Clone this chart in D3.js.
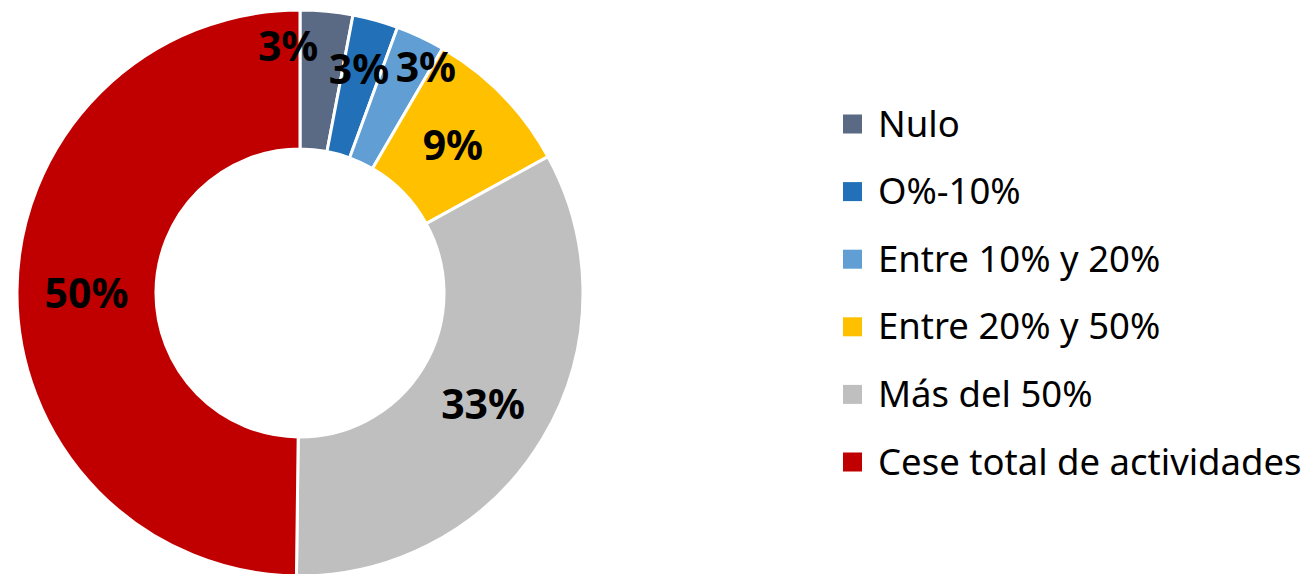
<!DOCTYPE html>
<html>
<head>
<meta charset="utf-8">
<script src="https://cdn.jsdelivr.net/npm/d3@7"></script>
<style>
  html, body { margin: 0; padding: 0; background: #fff; }
  svg { display: block; }
</style>
</head>
<body>
<div id="chart"></div>
<script>
// categories and shares (percent)
const categories = ['Nulo', 'O%-10%', 'Entre 10% y 20%', 'Entre 20% y 50%', 'Más del 50%', 'Cese total de actividades'];
const shares = [3.0, 2.6, 2.8, 8.6, 33.2, 49.8];
const labels = ['3%', '3%', '3%', '9%', '33%', '50%'];
const colors = ['#5A6A84', '#2270B8', '#609ED4', '#FFC000', '#BFBFBF', '#C00000'];

// small slices have their labels pushed off the centroid (like Excel does)
const labelNudge = [[-32, -35], [2, -19], [35, -34], [0, 0], [0, 0], [0, 0]];

const width = 1312, height = 574;
const dim = { cx: 300, cy: 293, inner: 144, outer: 283 };

const svg = d3.select('#chart')
  .append('svg')
  .attr('width', width)
  .attr('height', height);

const data = categories.map((c, i) => ({ name: c, value: shares[i], label: labels[i], color: colors[i] }));

const pie = d3.pie().sort(null).value(d => d.value);
const arc = d3.arc().innerRadius(dim.inner).outerRadius(dim.outer);
const pied = pie(data);

const canvas = svg.append('g')
  .attr('transform', `translate(${dim.cx},${dim.cy})`);

canvas.selectAll('.wedge')
  .data(pied)
  .enter()
  .append('path')
  .attr('class', 'wedge')
  .attr('d', arc)
  .attr('fill', d => d.data.color)
  .attr('stroke', '#fff')
  .attr('stroke-width', 3)
  .attr('stroke-linejoin', 'round');

canvas.selectAll('.label')
  .data(pied)
  .enter()
  .append('text')
  .attr('class', 'label')
  .attr('x', (d, i) => arc.centroid(d)[0] + labelNudge[i][0])
  .attr('y', (d, i) => arc.centroid(d)[1] + labelNudge[i][1])
  .attr('text-anchor', 'middle')
  .attr('dominant-baseline', 'central')
  .style('font-family', '"Noto Sans", "Open Sans", sans-serif')
  .style('font-weight', 'bold')
  .style('font-size', '41px')
  .style('fill', '#000')
  .text(d => d.data.label);

// legend
const legend = svg.append('g').attr('transform', 'translate(843,124)');
const rowY = d3.scalePoint().domain(categories).range([0, 338]);

const rows = legend.selectAll('.row')
  .data(data)
  .enter()
  .append('g')
  .attr('class', 'row')
  .attr('transform', d => `translate(0,${rowY(d.name)})`);

rows.append('rect')
  .attr('x', 0)
  .attr('y', -9.5)
  .attr('width', 19)
  .attr('height', 19)
  .attr('fill', d => d.color);

rows.append('text')
  .attr('x', 35)
  .attr('y', 12.5)
  .style('font-family', '"Noto Sans", "Open Sans", sans-serif')
  .style('font-size', '36.5px')
  .style('fill', '#000')
  .text(d => d.name);
</script>
</body>
</html>
